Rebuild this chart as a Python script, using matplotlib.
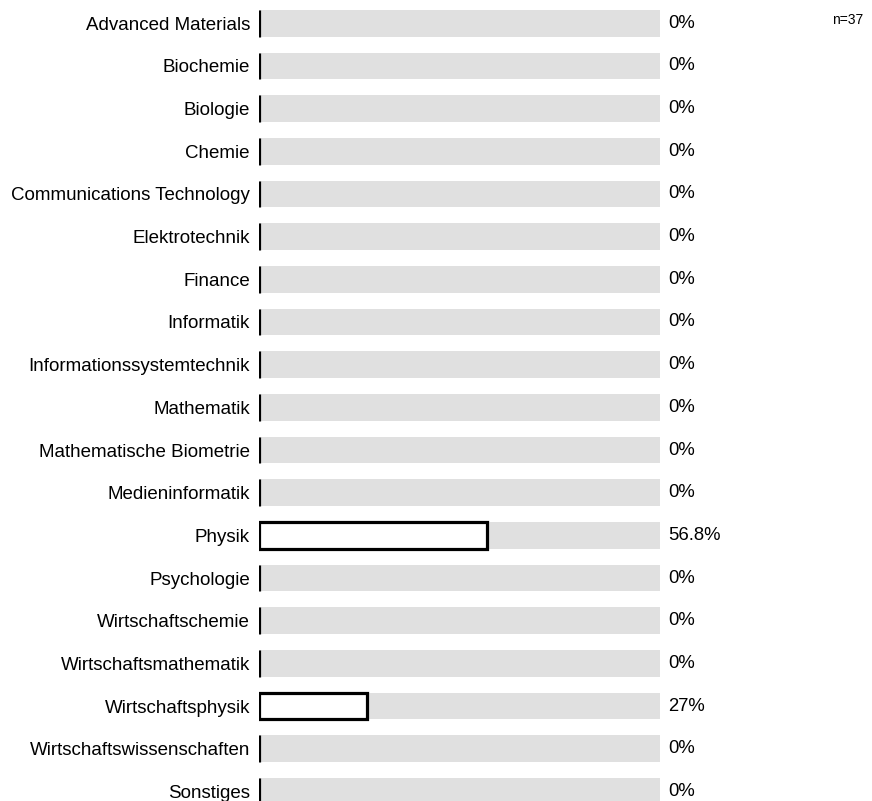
import matplotlib
matplotlib.use("Agg")
import matplotlib.pyplot as plt

plt.rcParams['font.family'] = ['Liberation Sans', 'DejaVu Sans']

categories = ["Advanced Materials", "Biochemie", "Biologie", "Chemie",
              "Communications Technology", "Elektrotechnik", "Finance",
              "Informatik", "Informationssystemtechnik", "Mathematik",
              "Mathematische Biometrie", "Medieninformatik", "Physik",
              "Psychologie", "Wirtschaftschemie", "Wirtschaftsmathematik",
              "Wirtschaftsphysik", "Wirtschaftswissenschaften", "Sonstiges"]
values = [0, 0, 0, 0, 0, 0, 0, 0, 0, 0, 0, 0, 56.8, 0, 0, 0, 27, 0, 0]
value_labels = ["0%"] * 12 + ["56.8%"] + ["0%"] * 3 + ["27%"] + ["0%"] * 2
n_label = "n=37"

W, H = 872, 801
fig = plt.figure(figsize=(W / 100, H / 100), dpi=100)
ax = fig.add_axes([259 / W, 0, 401 / W, 1])

ys = list(range(len(categories)))
bh = 0.625
ax.barh(ys, [100] * len(ys), height=bh, color="#e0e0e0", zorder=1)
ax.barh(ys, values, height=bh, color="white", edgecolor="black",
        linewidth=2.3, zorder=2)

ax.set_xlim(0, 100)
spacing = 42.67
top = 23.3
ax.set_ylim((H - top) / spacing, -top / spacing)
ax.set_yticks(ys)
ax.set_yticklabels(categories, fontsize=13.5)
ax.tick_params(axis='y', length=0, pad=6.5)
ax.set_xticks([])
for s in ax.spines.values():
    s.set_visible(False)

for y, lab in zip(ys, value_labels):
    ax.text(102, y, lab, ha="left", va="center", fontsize=13.3)

fig.text(832 / W, 1 - 20 / H, n_label, ha="left", va="center", fontsize=10)

fig.savefig("out.png", dpi=100)
